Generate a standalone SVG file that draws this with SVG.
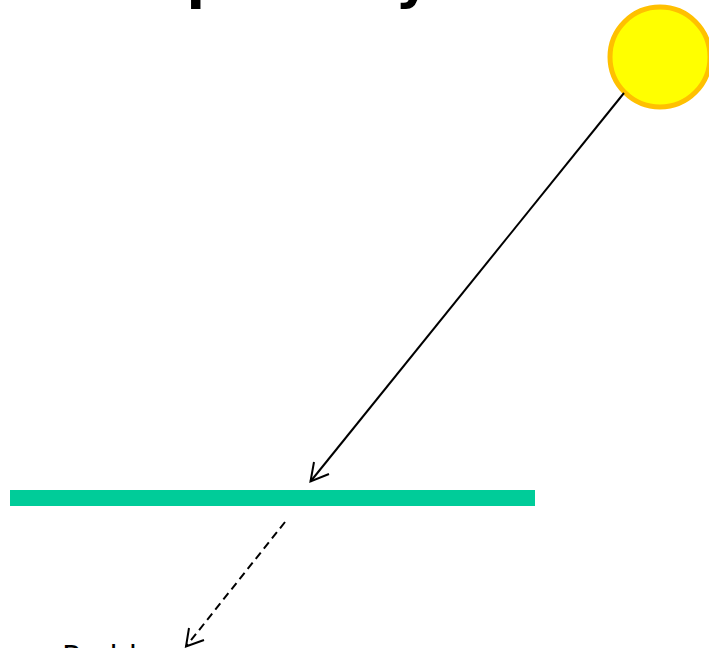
<svg xmlns="http://www.w3.org/2000/svg" width="709" height="648" viewBox="0 0 709 648">
<style>
.title{font-family:"DejaVu Sans",sans-serif;font-weight:bold;font-size:54px;fill:#000}
.label{font-family:"DejaVu Sans",sans-serif;font-size:30px;fill:#000}
.ray{fill:none;stroke:#000;stroke-width:2}
</style>
<rect width="709" height="648" fill="#fff"/>
<text class="title" x="22" y="-2">Transparency</text>
<g id="sun"><circle cx="660" cy="57" r="50" fill="#ffff00" stroke="#ffc000" stroke-width="5"/></g>
<g id="plate"><rect x="10" y="490" width="525" height="16" fill="#00cc99"/></g>
<g id="label"><text class="label" x="62" y="667">Problem</text></g>
<g id="connectors">
<path class="ray" d="M624 93L310.500 481.500"/>
<path class="ray" d="M314 462L310.500 481.500L329 474"/>
<path class="ray" stroke-dasharray="8 5" d="M285 522L186 646.500"/>
<path class="ray" d="M189 628L186 646.500L204 640"/>
</g>
</svg>
